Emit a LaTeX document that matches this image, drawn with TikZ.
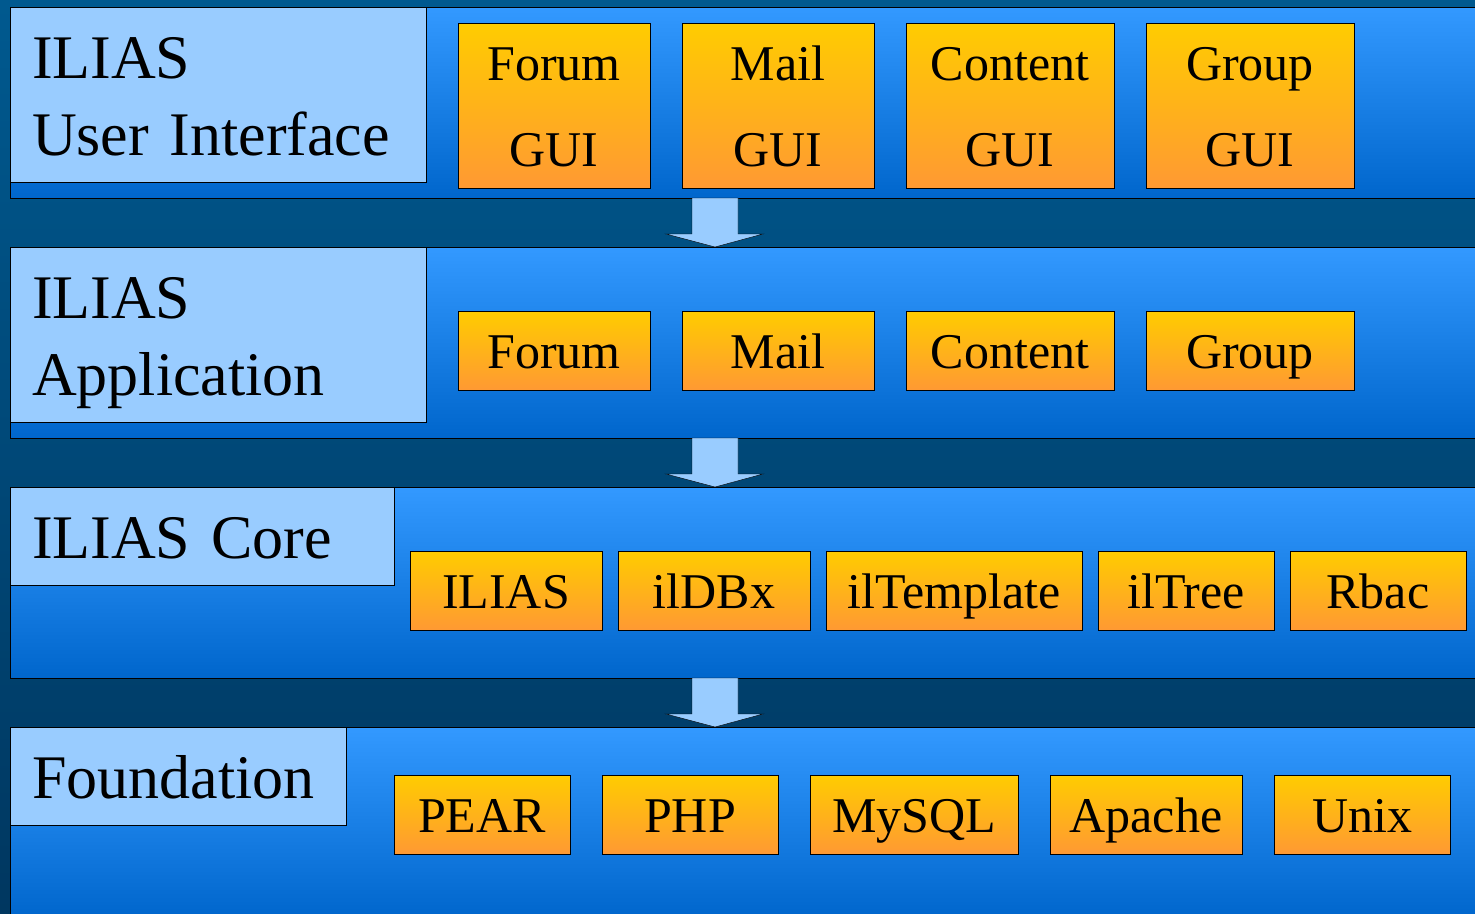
\documentclass[tikz,border=0pt]{standalone}
\usepackage{fontspec}
\setmainfont{Liberation Serif}
\usetikzlibrary{positioning,calc}
\definecolor{bgtop}{HTML}{00598F}
\definecolor{bgbot}{HTML}{003760}
\definecolor{bandtop}{HTML}{3399FF}
\definecolor{bandbot}{HTML}{0066CC}
\definecolor{labelblue}{HTML}{99CCFF}
\definecolor{modtop}{HTML}{FFCC00}
\definecolor{modbot}{HTML}{FF9933}
\tikzset{x=1pt,y=1pt,line width=2pt,outer sep=0pt,
  layer/.style={draw=black,top color=bandtop,bottom color=bandbot,minimum width=1480pt,minimum height=191pt,inner sep=0pt},
  layer label/.style={draw=black,fill=labelblue,anchor=north west,align=left,inner xsep=22pt,inner ysep=0pt,text height=44pt,text depth=0pt,font=\fontsize{62}{77}\selectfont},
  module/.style={draw=black,top color=modtop,bottom color=modbot,inner sep=0pt,align=center,text height=35pt,text depth=0pt,font=\fontsize{50}{86}\selectfont},
  flow/.style={draw=black,fill=labelblue,line join=miter}}

\begin{document}
\begin{tikzpicture}
  \fill[top color=bgtop,bottom color=bgbot] (0,0) rectangle (1475,-913);
  \useasboundingbox (0,0) rectangle (1475,-913);
  \clip (0,0) rectangle (1475,-913);

  % layers
  \node[layer, anchor=north west] (band1) at (10,-7) {};
  \node[layer, below=49pt of band1.south west, anchor=north west] (band2) {};
  \node[layer, below=49pt of band2.south west, anchor=north west] (band3) {};
  \node[layer, below=49pt of band3.south west, anchor=north west] (band4) {};

  \node[layer label, text depth=77pt, text width=372pt, minimum height=175pt] (ui) at (band1.north west) {ILIAS\\User~Interface};
  \node[layer label, text depth=77pt, text width=372pt, minimum height=175pt] (app) at (band2.north west) {ILIAS\\Application};
  \node[layer label, text width=340pt, minimum height=98pt] (core) at (band3.north west) {ILIAS Core};
  \node[layer label, text width=292pt, minimum height=98pt] (found) at (band4.north west) {Foundation};

  % user interface
  \node[module, text height=121pt, minimum width=192pt, minimum height=165pt, below right=16pt and 448pt of band1.north west] (forumgui) {Forum\\GUI};
  \node[module, text height=121pt, minimum width=192pt, minimum height=165pt, right=32pt of forumgui] (mailgui) {Mail\\GUI};
  \node[module, text height=121pt, minimum width=208pt, minimum height=165pt, right=32pt of mailgui] (contentgui) {Content\\GUI};
  \node[module, text height=121pt, minimum width=208pt, minimum height=165pt, right=32pt of contentgui] (groupgui) {Group\\GUI};

  % application
  \node[module, minimum width=192pt, minimum height=79pt, below right=64pt and 448pt of band2.north west] (forum) {Forum};
  \node[module, minimum width=192pt, minimum height=79pt, right=32pt of forum] (mail) {Mail};
  \node[module, minimum width=208pt, minimum height=79pt, right=32pt of mail] (content) {Content};
  \node[module, minimum width=208pt, minimum height=79pt, right=32pt of content] (group) {Group};

  % core
  \node[module, minimum width=192pt, minimum height=79pt, below right=64pt and 400pt of band3.north west] (ilias) {ILIAS};
  \node[module, minimum width=192pt, minimum height=79pt, right=16pt of ilias] (ildbx) {ilDBx};
  \node[module, minimum width=256pt, minimum height=79pt, right=16pt of ildbx] (iltemplate) {ilTemplate};
  \node[module, minimum width=176pt, minimum height=79pt, right=16pt of iltemplate] (iltree) {ilTree};
  \node[module, minimum width=176pt, minimum height=79pt, right=16pt of iltree] (rbac) {Rbac};

  % foundation
  \node[module, minimum width=176pt, minimum height=79pt, below right=48pt and 384pt of band4.north west] (pear) {PEAR};
  \node[module, minimum width=176pt, minimum height=79pt, right=32pt of pear] (php) {PHP};
  \node[module, minimum width=208pt, minimum height=79pt, right=32pt of php] (mysql) {MySQL};
  \node[module, minimum width=192pt, minimum height=79pt, right=32pt of mysql] (apache) {Apache};
  \node[module, minimum width=176pt, minimum height=79pt, right=32pt of apache] (unix) {Unix};

  % arrows between layers
  \foreach \a/\b in {1/2,2/3,3/4}{
    \path[flow] ($(band\a.south west)+(682,0)$) -- ++(0,-36) -- ++(-26,0)
      -- ($(band\b.north west)+(705,0)$) -- ($(band\a.south west)+(753,-36)$)
      -- ++(-25,0) -- ($(band\a.south west)+(728,0)$) -- cycle;
  }
\end{tikzpicture}
\end{document}
